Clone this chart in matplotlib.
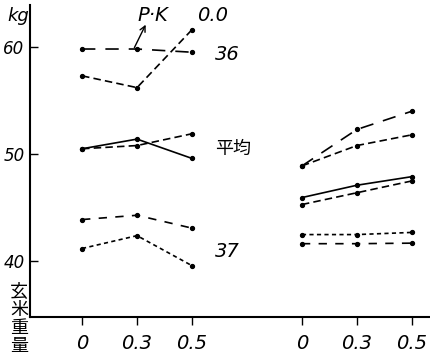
import matplotlib
matplotlib.use("Agg")
import matplotlib.pyplot as plt

# categories (P·K amounts)
doses = ["0", "0.3", "0.5"]
left_pos = [0, 1, 2]
right_pos = [4, 5, 6]

# left group (kg)
l36_a = [59.8, 59.8, 59.5]
l36_b = [57.3, 56.2, 61.6]
lavg_solid = [50.5, 51.4, 49.6]
lavg_dash = [50.5, 50.8, 51.9]
l37_a = [43.9, 44.3, 43.1]
l37_b = [41.2, 42.4, 39.6]

# right group (kg)
r_top_a = [48.9, 52.3, 54.0]
r_top_b = [48.9, 50.8, 51.8]
r_mid_solid = [45.95, 47.1, 47.9]
r_mid_dash = [45.3, 46.4, 47.5]
r_low_a = [42.5, 42.5, 42.7]
r_low_b = [41.65, 41.65, 41.7]

yticks = [40, 50, 60]

fig = plt.figure(figsize=(4.3, 3.6), dpi=100)
ax = fig.add_axes([0.07, 0.119, 0.93, 0.867])

LONG = (0, (8, 6))
DASH = (0, (4.5, 2.5))
DOT = (0, (2.5, 2))
MED = (0, (5, 5))
kw = dict(color="black", lw=1.2, marker="o", ms=2.8)

ax.plot(left_pos, l36_a, ls=LONG, **kw)
ax.plot(left_pos, l36_b, ls=DASH, **kw)
ax.plot(left_pos, lavg_solid, ls="-", **kw)
ax.plot(left_pos, lavg_dash, ls=DASH, **kw)
ax.plot(left_pos, l37_a, ls=MED, **kw)
ax.plot(left_pos, l37_b, ls=DOT, **kw)

ax.plot(right_pos, r_top_a, ls=LONG, **kw)
ax.plot(right_pos, r_top_b, ls=DASH, **kw)
ax.plot(right_pos, r_mid_solid, ls="-", **kw)
ax.plot(right_pos, r_mid_dash, ls=DASH, **kw)
ax.plot(right_pos, r_low_a, ls=DOT, **kw)
ax.plot(right_pos, r_low_b, ls=MED, **kw)

ax.set_xlim(-0.945, 6.33)
ax.set_ylim(34.8, 63.9)

for s in ["top", "right"]:
    ax.spines[s].set_visible(False)
ax.spines["left"].set_linewidth(1.5)
ax.spines["bottom"].set_linewidth(1.5)

ax.set_yticks(yticks)
ax.set_yticklabels([str(v) for v in yticks], fontsize=12, style="italic")
ax.tick_params(axis="y", direction="in", length=6, width=1, pad=4)
ax.set_xticks(left_pos + right_pos)
ax.set_xticklabels(doses + doses, fontsize=14, style="italic")
ax.tick_params(axis="x", direction="out", length=6, width=1, pad=6)

lab = dict(fontsize=14, style="italic", color="black", va="center", ha="left")
ax.text(2.42, 59.3, "36", **lab)
ax.text(2.09, 62.9, "0.0", **lab)
ax.text(1.0, 62.9, "P·K", **lab)
ax.text(2.42, 40.9, "37", **lab)
ax.text(2.42, 50.5, "平均", fontsize=13, family=["Noto Sans CJK JP", "DejaVu Sans"],
        va="center", ha="left")
ax.annotate("", xy=(1.18, 62.3), xytext=(0.93, 59.7),
            arrowprops=dict(arrowstyle="->", color="black", lw=1))

fig.text(0.042, 0.955, "kg", fontsize=13, style="italic", ha="center", va="center")
fig.text(0.045, 0.115, "玄\n米\n重\n量", fontsize=13, ha="center", va="center",
         family=["Noto Sans CJK JP", "DejaVu Sans"], linespacing=1.0)

fig.savefig("out.png", dpi=100)
